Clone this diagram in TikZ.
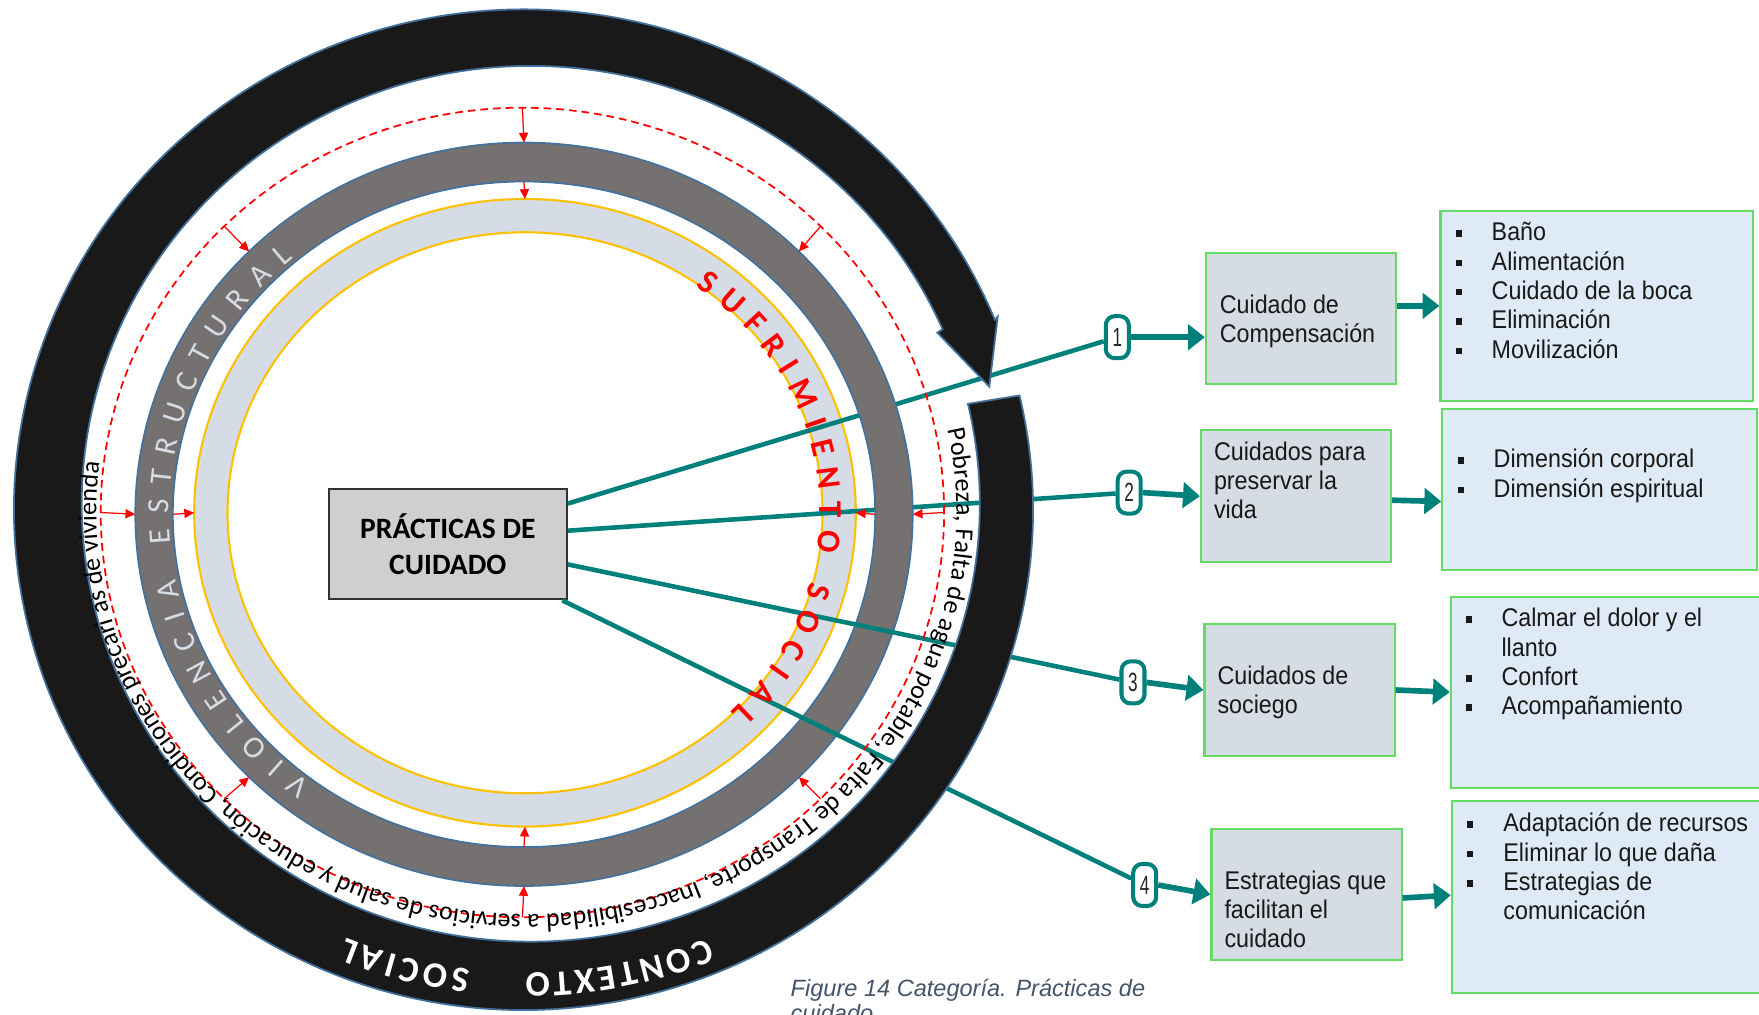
\documentclass[tikz,border=0pt]{standalone}
\usepackage{fontspec}
\usetikzlibrary{arrows.meta,calc,decorations.text}
\newfontfamily\calibri{Carlito}
\newfontfamily\arialfont{Liberation Sans}
\newfontfamily\arialnarrow[FakeStretch=0.91]{Liberation Sans}
\newfontfamily\digitfont[FakeStretch=0.65]{Liberation Sans}

\definecolor{linkteal}{RGB}{0,128,122}
\definecolor{boxfill}{RGB}{214,220,228}
\definecolor{listfill}{RGB}{222,234,246}
\definecolor{boxgreen}{RGB}{100,220,100}
\definecolor{pfill}{RGB}{208,206,206}
\definecolor{ringgray}{RGB}{118,113,113}
\definecolor{ringedge}{RGB}{65,113,156}
\definecolor{lightring}{RGB}{214,220,229}
\definecolor{ringorange}{RGB}{255,192,0}
\definecolor{ringblack}{RGB}{25,25,25}
\definecolor{capcolor}{RGB}{68,84,106}
\definecolor{ringtext}{RGB}{214,220,229}

% square bullet and the matching indent for wrapped lines
\newcommand{\sqbul}{\makebox[0.36cm][l]{\rule[0.04cm]{0.06cm}{0.065cm}}}
\newcommand{\bulind}{\hspace*{0.36cm}}

\begin{document}
\begin{tikzpicture}[x=0.01cm, y=0.01cm,
  pbox/.style={draw=black!80, line width=0.6pt, fill=pfill, minimum width=2.377cm,
    minimum height=1.103cm, inner sep=0pt, align=center,
    font=\calibri\bfseries\fontsize{8.4}{10.44}\selectfont},
  cbox/.style={draw=boxgreen, line width=0.6pt, fill=boxfill, minimum width=1.9cm,
    minimum height=1.315cm, inner sep=0pt},
  lbox/.style={draw=boxgreen, line width=0.6pt, fill=listfill, inner sep=0pt},
  badge/.style={draw=linkteal, line width=1.15pt, fill=white, rounded corners=0.09cm,
    minimum width=0.23cm, minimum height=0.42cm, inner sep=0pt,
    font=\digitfont\fontsize{7.5}{8}\selectfont, text=black!85},
  tline/.style={draw=linkteal, line width=1.3pt},
  tarrow/.style={draw=linkteal, line width=1.6pt, -{Triangle[length=4.8pt, width=7.2pt]}},
  redarrow/.style={draw=red, line width=0.35pt, -{Triangle[length=2.8pt, width=2.6pt]}},
  boxtext/.style={anchor=north west, inner sep=0pt, align=left,
    font=\arialnarrow\fontsize{7.28}{8.34}\selectfont, text=black!90},
  captext/.style={anchor=base west, inner sep=0pt,
    font=\arialfont\itshape\fontsize{6.7}{8}\selectfont, text=capcolor},
]
\useasboundingbox (0,0) rectangle (1759,1015);
\clip (0,0) rectangle (1759,1015);

% centres of the rings
\coordinate (Cl) at (525,502.2);   % light ring
\coordinate (Cg) at (524,500.7);   % grey ring
\coordinate (Cd) at (522.4,502.5); % dashed ring
\coordinate (Ct) at (526.4,502.5); % lettering beside the dashed ring
\coordinate (Co) at (523.5,505.3); % black ring, outer edge
\coordinate (Ci) at (530.8,511.2); % black ring, inner edge
\coordinate (Cm) at (527,508);     % black ring, lettering

% light ring with orange edges
\fill[lightring, even odd rule] (Cl) ellipse[x radius=330.8, y radius=313.8]
  (Cl) ellipse[x radius=297.5, y radius=280.5];
\draw[ringorange, line width=0.6pt] (Cl) ellipse[x radius=330.8, y radius=313.8]
  (Cl) ellipse[x radius=297.5, y radius=280.5];

% central box
\node[pbox] (P) at (447.85,470.85) {PRÁCTICAS DE\\CUIDADO};

% numbered badges
\node[badge] (b1) at (1117.3,677.8) {1};
\node[badge] (b2) at (1129.2,522.4) {2};
\node[badge] (b3) at (1133,332.6) {3};
\node[badge] (b4) at (1144.7,130) {4};

% category boxes
\node[cbox] (A) at (1301,696.5) {};
\node[cbox] (B) at (1296,518.8) {};
\node[cbox] (C) at (1299.5,325) {};
\node[cbox] (D) at (1306.5,120.5) {};

% list boxes
\node[lbox, minimum width=3.125cm, minimum height=1.903cm] (L1) at (1596.8,709.15) {};
\node[lbox, minimum width=3.142cm, minimum height=1.61cm] (L2) at (1599.5,525.5) {};
\node[lbox, minimum width=3.14cm, minimum height=1.91cm] (L3) at (1608,322.8) {};
\node[lbox, minimum width=3.13cm, minimum height=1.92cm] (L4) at (1608.5,118.3) {};

% texts of the category boxes
\node[boxtext] (tA) at (1219.1,720.6) {Cuidado de\\Compensación};
\node[boxtext] (tB) at (1213.3,574) {Cuidados para\\preservar la\\vida};
\node[boxtext] (tC) at (1216.8,350) {Cuidados de\\sociego};
\node[boxtext] (tD) at (1223.8,145) {Estrategias que\\facilitan el\\cuidado};

% texts of the lists
\node[boxtext] (tL1) at (1455,793.3) {\sqbul Baño\\ \sqbul Alimentación\\ \sqbul Cuidado de la boca\\ \sqbul Eliminación\\ \sqbul Movilización};
\node[boxtext] (tL2) at (1457,566.6) {\sqbul Dimensión corporal\\ \sqbul Dimensión espiritual};
\node[boxtext] (tL3) at (1464.8,407.3) {\sqbul Calmar el dolor y el\\ \bulind llanto\\ \sqbul Confort\\ \sqbul Acompañamiento};
\node[boxtext] (tL4) at (1466.7,202.6) {\sqbul Adaptación de recursos\\ \sqbul Eliminar lo que daña\\ \sqbul Estrategias de\\ \bulind comunicación};

% upper connectors run beneath the grey ring
\draw[tline] ([yshift=0.4055cm]P.east) -- (b1);
\draw[tline] ([yshift=0.1345cm]P.east) -- (b2);

\draw[tarrow] (b1.east) -- (b1.east -| A.west);
\draw[tarrow] (b2.east) -- (B.west);
\draw[tarrow] (b3.east) -- (C.west);
\draw[tarrow] (b4.east) -- (D.west);

\draw[tarrow] (L1.west -| A.east) -- (L1.west);
\draw[tarrow] ([yshift=-0.04cm]B.east) -- ([yshift=-0.12cm]L2.west);
\draw[tarrow] (C.east) -- (L3.west);
\draw[tarrow] ([yshift=-0.035cm]D.east) -- ([yshift=0.015cm]L4.west);

% grey ring
\fill[ringgray, even odd rule] (Cg) ellipse[x radius=388.7, y radius=371.7]
  (Cg) ellipse[x radius=351.2, y radius=332.8];
\draw[ringedge, line width=0.5pt] (Cg) ellipse[x radius=388.7, y radius=371.7]
  (Cg) ellipse[x radius=351.2, y radius=332.8];

% lower connectors lie over the grey ring
\draw[tline] ([yshift=-0.2025cm]P.east) -- (b3);
\draw[tline] ([xshift=-0.055cm]P.south east) -- (b4);

% black ring ending in an arrow head
\filldraw[fill=ringblack, draw=ringedge, line width=0.5pt]
  ($(Co)+(13.2:509.5 and 500.3)$)
  arc[start angle=13.2, end angle=-337.7, x radius=509.5, y radius=500.3]
  -- (997.7,698.3) -- (989.3,628.3) -- (937.3,682.3)
  -- ($(Ci)+(-336.5:449 and 437.8)$)
  arc[start angle=-336.5, end angle=13.2, x radius=449, y radius=437.8]
  -- cycle;

% dashed red ring and the red arrows
\draw[red, line width=0.5pt, dash pattern=on 2.2pt off 1.4pt]
  (Cd) ellipse[x radius=421.7, y radius=404.8];
\foreach \ang in {0,45,...,315}
  \draw[redarrow] ($(Cd)+(\ang:421.7 and 404.8)$) -- ($(Cg)+(\ang:388.7 and 371.7)$);
\foreach \ang in {0,90,180,270}
  \draw[redarrow] ($(Cg)+(\ang:351.2 and 332.8)$) -- ($(Cl)+(\ang:330.8 and 313.8)$);

% lettering along the rings
\path[decorate, decoration={text along path, text align=fit to path,
    text={|\calibri\fontsize{7.4}{8}\selectfont|Pobreza, Falta de agua potable, Falta de Transporte, Inaccesibilidad a servicios de salud y educación, Condiciones precari as de vivienda}}]
  ($(Ct)+(11.85:430 and 402)$) arc[start angle=11.85, end angle=-187.1, x radius=430, y radius=402];

\path[decorate, decoration={text along path, text align=fit to path, text color=ringtext,
    text={|\calibri\fontsize{8.8}{9}\selectfont|VIOLENCIA ESTRUCTURAL}}]
  ($(Cg)+(233:355 and 337)$) arc[start angle=233, end angle=130.5, x radius=355, y radius=337];

\path[decorate, decoration={text along path, text align=fit to path, text color=red,
    text={|\calibri\bfseries\fontsize{9.4}{10}\selectfont|SUFRIMIENTO SOCIAL}}]
  ($(Cl)+(54.6:295 and 278)$) arc[start angle=54.6, end angle=-45.8, x radius=295, y radius=278];

\path[decorate, decoration={text along path, text align=fit to path, text color=white,
    text={|\calibri\bfseries\fontsize{10.2}{11}\selectfont|CONTEXTO}}]
  ($(Cm)+(-67.7:475 and 466)$) arc[start angle=-67.7, end angle=-90.2, x radius=475, y radius=466];
\path[decorate, decoration={text along path, text align=fit to path, text color=white,
    text={|\calibri\bfseries\fontsize{10.2}{11}\selectfont|SOCIAL}}]
  ($(Cm)+(-96.8:475 and 466)$) arc[start angle=-96.8, end angle=-112.4, x radius=475, y radius=466];

% caption
\node[captext] (cap1) at (790,18.3) {Figure 14 Categoría. Prácticas de};
\node[captext] (cap2) at (790,-7) {cuidado};
\end{tikzpicture}
\end{document}
